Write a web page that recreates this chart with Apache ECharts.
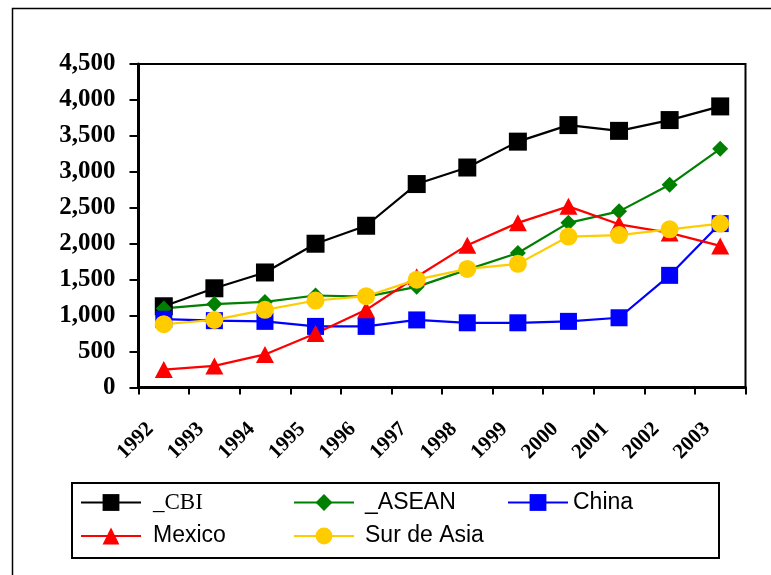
<!DOCTYPE html>
<html>
<head>
<meta charset="utf-8">
<script src="https://cdn.jsdelivr.net/npm/echarts@6/dist/echarts.min.js"></script>
<style>
  html, body { margin: 0; padding: 0; background: #fff; }
  #chart { width: 771px; height: 575px; }
</style>
</head>
<body>
<div id="chart"></div>
<script>
// Years on the category axis
const years = ['1992', '1993', '1994', '1995', '1996', '1997', '1998', '1999', '2000', '2001', '2002', '2003'];

// Series values per year
const cbi      = [1130, 1380, 1600, 2000, 2250, 2830, 3060, 3420, 3650, 3570, 3720, 3910];
const asean    = [1100, 1160, 1190, 1280, 1265, 1400, 1640, 1870, 2290, 2450, 2820, 3320];
const china    = [950, 930, 920, 850, 850, 940, 900, 900, 920, 970, 1560, 2280];
const mexico   = [250, 300, 460, 750, 1080, 1540, 1980, 2290, 2520, 2270, 2150, 1970];
const surAsia  = [880, 940, 1080, 1210, 1270, 1500, 1650, 1720, 2100, 2120, 2200, 2280];

// Value-axis range
const yMin = 0, yMax = 4500, yStep = 500;

const chart = echarts.init(document.getElementById('chart'));

function fmt(v) {
  return String(v).replace(/\B(?=(\d{3})+(?!\d))/g, ',');
}

function lineSeries(name, data, color, symbol, size) {
  return {
    name: name,
    type: 'line',
    data: data,
    symbol: symbol,
    symbolSize: size,
    showSymbol: true,
    lineStyle: { color: color, width: 2.2 },
    itemStyle: { color: color, opacity: 1 },
    emphasis: { disabled: true },
    animation: false
  };
}

function legendItem(name, left, top, font, padLeft) {
  return {
    data: [name],
    left: left,
    top: top,
    padding: 0,
    itemWidth: 60,
    itemHeight: 21,
    selectedMode: false,
    textStyle: {
      fontFamily: font,
      fontSize: 23,
      color: '#000',
      padding: [0, 0, 0, padLeft]
    }
  };
}

const sans = '"Liberation Sans", Arial, sans-serif';
const serif = '"Liberation Serif", "Times New Roman", serif';

chart.setOption({
  backgroundColor: '#fff',
  animation: false,
  grid: {
    left: 138.5, top: 64, right: 25.5, bottom: 187.5,
    show: true, borderColor: '#000', borderWidth: 2, backgroundColor: 'transparent'
  },
  xAxis: {
    type: 'category',
    data: years,
    boundaryGap: true,
    axisLine: { lineStyle: { color: '#000', width: 3 } },
    axisTick: { show: true, inside: false, length: 7, alignWithLabel: false, lineStyle: { color: '#000', width: 2 } },
    axisLabel: {
      rotate: 45,
      margin: 25,
      interval: 0,
      fontFamily: serif,
      fontWeight: 'bold',
      fontSize: 21,
      color: '#000',
      padding: [0, 19, 36, 0]
    },
    splitLine: { show: false }
  },
  yAxis: {
    type: 'value',
    min: yMin, max: yMax, interval: yStep,
    axisLine: { show: true, lineStyle: { color: '#000', width: 3 } },
    axisTick: { show: true, inside: false, length: 9, lineStyle: { color: '#000', width: 2 } },
    axisLabel: {
      margin: 23,
      fontFamily: serif,
      fontWeight: 'bold',
      fontSize: 25,
      color: '#000',
      formatter: fmt
    },
    splitLine: { show: false }
  },
  legend: [
    legendItem('_CBI', 80, 491, serif, 7),
    legendItem('_ASEAN', 293, 491, sans, 6),
    legendItem('China', 507, 491, sans, 0),
    legendItem('Mexico', 80, 524.5, sans, 7),
    legendItem('Sur de Asia', 293, 524.5, sans, 6)
  ],
  series: [
    lineSeries('_CBI', cbi, '#000000', 'rect', [18, 18]),
    lineSeries('_ASEAN', asean, '#008000', 'diamond', [16, 16]),
    lineSeries('China', china, '#0000FF', 'rect', [17, 17]),
    lineSeries('Mexico', mexico, '#FF0000', 'triangle', [18, 17]),
    lineSeries('Sur de Asia', surAsia, '#FFCC00', 'circle', [18, 18])
  ],
  graphic: [
    {
      type: 'rect',
      shape: { x: 12.5, y: 8.5, width: 800, height: 600 },
      style: { fill: 'none', stroke: '#000', lineWidth: 1.5 },
      silent: true
    },
    {
      type: 'rect',
      shape: { x: 72, y: 483, width: 647, height: 75 },
      style: { fill: 'none', stroke: '#000', lineWidth: 2 },
      silent: true,
      z: -1
    }
  ]
});
</script>
</body>
</html>
